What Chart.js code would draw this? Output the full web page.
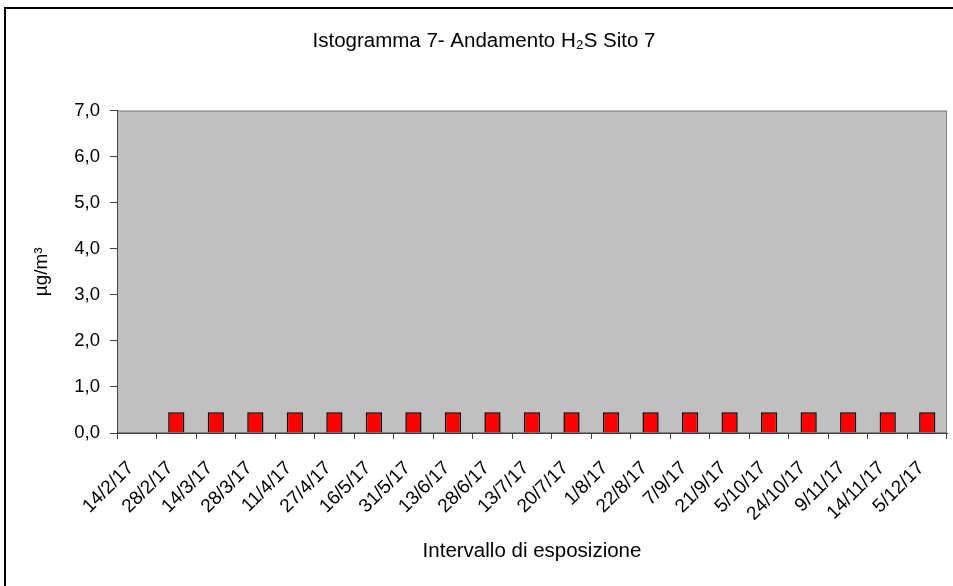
<!DOCTYPE html>
<html>
<head>
<meta charset="utf-8">
<script src="https://cdn.jsdelivr.net/npm/chart.js@4"></script>
<style>
  body { margin: 0; background: #fff; }
  canvas { display: block; }
</style>
</head>
<body>
<canvas id="myChart" width="953" height="586"></canvas>
<script>
const dates = ['14/2/17', '28/2/17', '14/3/17', '28/3/17', '11/4/17', '27/4/17', '16/5/17', '31/5/17', '13/6/17', '28/6/17', '13/7/17',
  '20/7/17', '1/8/17', '22/8/17', '7/9/17', '21/9/17', '5/10/17', '24/10/17', '9/11/17', '14/11/17', '5/12/17']
const h2s = [null, 0.45, 0.45, 0.45, 0.45, 0.45, 0.45, 0.45, 0.45, 0.45, 0.45,
  0.45, 0.45, 0.45, 0.45, 0.45, 0.45, 0.45, 0.45, 0.45, 0.45]
const yticks = [0, 1, 2, 3, 4, 5, 6, 7]

const font = "'Liberation Sans', Arial, sans-serif"

// white page, outer frame and grey plot area
const backdrop = {
  id: 'backdrop',
  beforeDraw(chart) {
    const {ctx, chartArea: a} = chart
    ctx.save()
    ctx.fillStyle = '#fff'
    ctx.fillRect(0, 0, chart.width, chart.height)
    ctx.strokeStyle = '#000'
    ctx.lineWidth = 2
    ctx.strokeRect(5, 8, chart.width + 20, chart.height + 20)
    ctx.fillStyle = '#c0c0c0'
    ctx.fillRect(a.left, a.top, a.right - a.left, a.bottom - a.top)
    ctx.strokeStyle = '#808080'
    ctx.lineWidth = 1
    ctx.strokeRect(a.left + 0.5, a.top + 0.5, a.right - a.left - 1, a.bottom - a.top - 1)
    ctx.restore()
  }
}

new Chart("myChart", {
  type: "bar",
  data: {
    labels: dates,
    datasets: [{
      data: h2s,
      backgroundColor: "#ff0000",
      borderColor: "#000",
      borderWidth: 1.5,
      barPercentage: 0.41,
      categoryPercentage: 1
    }]
  },
  options: {
    responsive: false,
    animation: false,
    layout: {padding: {left: 21, right: 6, top: 0, bottom: 0}},
    plugins: {
      legend: {display: false},
      tooltip: {enabled: false},
      title: {
        display: true,
        text: 'Istogramma 7- Andamento H\u2082S Sito 7',
        color: '#000',
        font: {family: font, size: 20.5, weight: 'normal'},
        padding: {top: 29, bottom: 57}
      }
    },
    scales: {
      x: {
        grid: {offset: true, drawOnChartArea: false, tickLength: 6, color: '#404040'},
        border: {color: '#404040'},
        ticks: {
          autoSkip: false, maxRotation: 45, minRotation: 45,
          padding: 18, labelOffset: -6,
          color: '#000', font: {family: font, size: 19}
        },
        title: {
          display: true, text: 'Intervallo di esposizione', color: '#000',
          font: {family: font, size: 20.5}, padding: {top: 0, bottom: 22}
        },
        afterFit(scale) {
          scale.height = 153
          scale.paddingLeft = 0
          scale.paddingRight = 0
        }
      },
      y: {
        min: 0, max: 7,
        afterBuildTicks(scale) { scale.ticks = yticks.map(v => ({value: v})) },
        grid: {drawOnChartArea: false, tickLength: 7, color: '#404040'},
        border: {color: '#404040'},
        ticks: {
          padding: 10, color: '#000', font: {family: font, size: 18.5},
          callback: v => v.toFixed(1).replace('.', ',')
        },
        title: {
          display: true, text: '\u00b5g/m\u00b3', color: '#000',
          font: {family: font, size: 19}, padding: {top: 9, bottom: 0}
        },
        afterFit(scale) { scale.width = 96 }
      }
    }
  },
  plugins: [backdrop]
})
</script>
</body>
</html>
